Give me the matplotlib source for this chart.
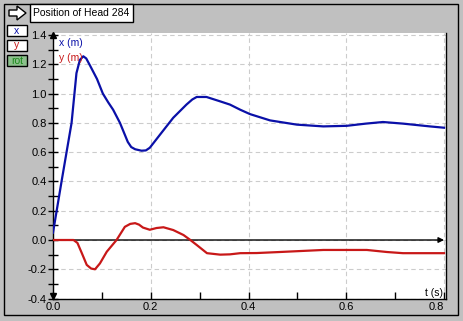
import matplotlib
matplotlib.use("Agg")
import matplotlib.pyplot as plt
from matplotlib.patches import Rectangle, Polygon

# data
t_x = [0.0, 0.018, 0.038, 0.048, 0.055, 0.062, 0.068, 0.076, 0.09, 0.102, 0.113,
       0.123, 0.137, 0.153, 0.16, 0.168, 0.181, 0.19, 0.198, 0.219, 0.246, 0.273,
       0.285, 0.294, 0.314, 0.342, 0.362, 0.383, 0.403, 0.444, 0.499, 0.553,
       0.601, 0.64, 0.675, 0.716, 0.771, 0.8]
x_m = [0.05, 0.41, 0.80, 1.14, 1.23, 1.255, 1.24, 1.19, 1.10, 1.0, 0.94,
       0.89, 0.80, 0.67, 0.635, 0.62, 0.61, 0.612, 0.63, 0.72, 0.835, 0.925,
       0.96, 0.977, 0.977, 0.947, 0.925, 0.89, 0.86, 0.817, 0.788, 0.776,
       0.78, 0.795, 0.806, 0.795, 0.776, 0.767]

t_y = [0.0, 0.042, 0.05, 0.059, 0.069, 0.078, 0.086, 0.096, 0.11, 0.13, 0.147,
       0.158, 0.168, 0.176, 0.184, 0.198, 0.212, 0.226, 0.246, 0.267, 0.281,
       0.294, 0.315, 0.342, 0.362, 0.383, 0.417, 0.464, 0.553, 0.642, 0.683,
       0.716, 0.8]
y_m = [0.0, 0.0, -0.02, -0.09, -0.17, -0.195, -0.2, -0.16, -0.08, 0.0, 0.09,
       0.11, 0.115, 0.105, 0.085, 0.07, 0.082, 0.087, 0.068, 0.034, 0.0,
       -0.034, -0.09, -0.10, -0.098, -0.09, -0.089, -0.082, -0.068, -0.068, -0.082,
       -0.09, -0.09]

x_ticks = [0.0, 0.2, 0.4, 0.6, 0.8]
y_ticks = [-0.4, -0.2, 0.0, 0.2, 0.4, 0.6, 0.8, 1.0, 1.2, 1.4]

title = "Position of Head 284"
buttons = ["x", "y", "rot"]

W, H = 463, 321
BG = "#c0c0c0"
BLUE = "#0a10a8"
RED = "#c81818"

plt.rcParams["font.family"] = ["Liberation Sans", "DejaVu Sans"]
plt.rcParams["font.size"] = 8


def fx(px):
    return px / W


def fy(py):
    return 1 - py / H


fig = plt.figure(figsize=(W / 100, H / 100), dpi=100, facecolor=BG)

# outer frame
fig.patches.append(Rectangle((fx(4), fy(315)), fx(454), 311 / H, fill=False,
                             edgecolor="black", lw=1, transform=fig.transFigure, figure=fig))

# arrow icon
arrow_pts = [(9, 10), (17, 10), (17, 6), (26, 13), (17, 20), (17, 16), (9, 16)]
fig.patches.append(Polygon([(fx(a), fy(b)) for a, b in arrow_pts], closed=True,
                           facecolor="white", edgecolor="black", lw=1,
                           transform=fig.transFigure, figure=fig))

# title box
fig.patches.append(Rectangle((fx(30), fy(22)), fx(103), 18 / H, facecolor="white",
                             edgecolor="black", lw=1, transform=fig.transFigure, figure=fig))
fig.text(fx(33), fy(13), title, fontsize=7.5, va="center", ha="left")

# x / y / rot buttons
btn_tops = [25, 40, 55]
btn_face = ["white", "white", "#8cc08c"]
btn_col = [BLUE, RED, "#1a8a1a"]
for lab, top, fc, c in zip(buttons, btn_tops, btn_face, btn_col):
    fig.patches.append(Rectangle((fx(7), fy(top + 11)), fx(20), 11 / H, facecolor=fc,
                                 edgecolor="black", lw=1, transform=fig.transFigure, figure=fig))
    fig.text(fx(17), fy(top + 5.5), lab, color=c, fontsize=7.5, ha="center", va="center")

# plot area
ax = fig.add_axes([fx(53), fy(299), fx(393), 266 / H])
ax.set_facecolor("white")
ax.set_xlim(0, 0.804)
ax.set_ylim(-0.403, 1.414)

ax.grid(True, color="#cccccc", ls=(0, (4, 3)), lw=0.8)
ax.set_axisbelow(True)

ax.plot(t_x, x_m, color=BLUE, lw=1.6, zorder=3)
ax.plot(t_y, y_m, color=RED, lw=1.6, zorder=3)

# zero line with arrow
ax.annotate("", xy=(0.8, 0), xytext=(0, 0),
            arrowprops=dict(arrowstyle="-|>", color="black", lw=1, mutation_scale=8,
                            shrinkA=0, shrinkB=0), zorder=2)
# y-axis arrows
ax.plot([0], [1.4], marker="^", color="black", ms=4, clip_on=False, zorder=4)
ax.plot([0], [-0.38], marker="v", color="black", ms=4, clip_on=False, zorder=4)

ax.spines["top"].set_visible(False)
for s in ["left", "right", "bottom"]:
    ax.spines[s].set_color("black")
    ax.spines[s].set_linewidth(1)

ax.set_xticks(x_ticks)
ax.set_xticklabels(["%.1f" % v for v in x_ticks])
ax.set_xticks([0.1, 0.3, 0.5, 0.7], minor=True)
ax.set_yticks(y_ticks)
ax.set_yticklabels(["%.1f" % v for v in y_ticks])
ax.set_yticks([-0.3, -0.1, 0.1, 0.3, 0.5, 0.7, 0.9, 1.1, 1.3], minor=True)
ax.tick_params(axis="x", which="both", direction="in", length=5, width=1, pad=2,
               labelsize=8)
ax.tick_params(axis="y", which="both", direction="inout", length=7, width=1, pad=1,
               labelsize=8)
ax.get_xticklabels()[-1].set_ha("right")

ax.text(0.012, 1.345, "x (m)", color=BLUE, fontsize=7.5, va="center")
ax.text(0.012, 1.243, "y (m)", color=RED, fontsize=7.5, va="center")
ax.text(0.798, -0.36, "t (s)", color="black", fontsize=7.5, ha="right", va="center")

fig.savefig("out.png", dpi=100, facecolor=BG)
